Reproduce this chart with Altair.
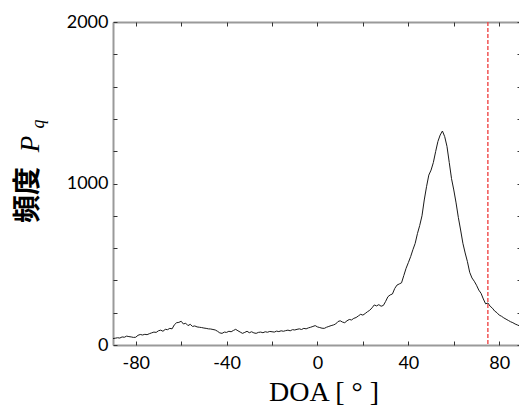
import altair as alt
import pandas as pd

# DOA angle in degrees (x axis)
doa = list(range(-90, 90))
# frequency P_q
freq = [
    40, 42, 45, 43, 50, 48, 55, 52, 50, 47,
    48, 60, 65, 62, 66, 64, 70, 75, 80, 78,
    88, 92, 85, 97, 95, 103, 100, 125, 138, 140,
    147, 130, 135, 120, 128, 115, 118, 112, 110, 108,
    105, 103, 100, 99, 96, 93, 85, 75, 72, 80,
    78, 85, 82, 90, 97, 88, 80, 72, 78, 85,
    76, 82, 75, 72, 78, 80, 76, 82, 79, 84,
    82, 80, 86, 83, 88, 85, 89, 92, 88, 95,
    93, 97, 100, 96, 103, 100, 106, 110, 115, 120,
    112, 108, 104, 103, 110, 115, 120, 124, 130, 145,
    150, 142, 138, 150, 158, 155, 165, 170, 180, 190,
    185, 195, 206, 215, 230, 248, 242, 250, 240, 245,
    270, 299, 310, 316, 350, 371, 378, 385, 430, 475,
    510, 547, 590, 629, 690, 740, 800, 898, 980, 1052,
    1083, 1130, 1197, 1260, 1300, 1325, 1290, 1230, 1130, 1030,
    960, 880, 790, 712, 630, 570, 516, 450, 415, 395,
    370, 340, 320, 285, 255, 260, 240, 228, 210, 200,
    185, 178, 168, 160, 152, 144, 138, 130, 124, 118,
]
# threshold angle (red dashed line)
threshold = [75]
x_label_values = [-80, -40, 0, 40, 80]
x_tick_values = list(range(-80, 81, 20))
y_label_values = [0, 1000, 2000]
y_tick_values = list(range(0, 2001, 200))
x_domain = [-90, 88.7]
y_domain = [0, 2000]
ytitle_main = ["頻度"]
ytitle_p = ["P"]
ytitle_q = ["q"]
xtitle = ["DOA [ ° ]"]

df = pd.DataFrame({"doa": doa, "freq": freq})
thr = pd.DataFrame({"doa": threshold})

W, H = 406, 323
xs = alt.Scale(domain=x_domain, nice=False, zero=False)
ys = alt.Scale(domain=y_domain, nice=False, zero=False)

DOM = "#9a9a9a"
TICK = "#333333"
PLAIN = "'' + datum.value"

main = alt.Chart(df).mark_line(color="#1a1a1a", strokeWidth=1, clip=True).encode(
    x=alt.X("doa:Q", scale=xs, axis=alt.Axis(
        orient="bottom", values=x_label_values, ticks=False, grid=False,
        domainColor=DOM, domainWidth=2, labelFont="Lato", labelFontSize=18,
        labelColor="black", labelPadding=9, labelFlush=False, labelExpr=PLAIN,
        title=None)),
    y=alt.Y("freq:Q", scale=ys, axis=alt.Axis(
        orient="left", values=y_label_values, ticks=False, grid=False,
        domainColor=DOM, domainWidth=2, labelFont="Lato", labelFontSize=18,
        labelColor="black", labelPadding=5, labelFlush=False, labelExpr=PLAIN,
        title=None)),
)

rule = alt.Chart(thr).mark_rule(color="#f04848", strokeWidth=1.4, strokeDash=[4, 2]).encode(
    x=alt.X("doa:Q", scale=xs, axis=alt.Axis(
        orient="top", ticks=False, labels=False, grid=False,
        domainColor=DOM, domainWidth=2, title=None)),
)

ticks_a = alt.Chart(df).mark_line(opacity=0).encode(
    x=alt.X("doa:Q", scale=xs, axis=alt.Axis(
        orient="top", offset=-H, values=x_tick_values, labels=False, domain=False,
        grid=False, ticks=True, tickSize=4, tickColor=TICK, tickWidth=1, title=None)),
    y=alt.Y("freq:Q", scale=ys, axis=alt.Axis(
        orient="right", offset=-W, values=y_tick_values, labels=False, domain=False,
        grid=False, ticks=True, tickSize=4, tickColor=TICK, tickWidth=1, title=None)),
)

ticks_b = alt.Chart(df).mark_line(opacity=0).encode(
    x=alt.X("doa:Q", scale=xs, axis=alt.Axis(
        orient="bottom", offset=-H, values=x_tick_values, labels=False, domain=False,
        grid=False, ticks=True, tickSize=4, tickColor=TICK, tickWidth=1, title=None)),
    y=alt.Y("freq:Q", scale=ys, axis=alt.Axis(
        orient="left", offset=-W, values=y_tick_values, labels=False, domain=False,
        grid=False, ticks=True, tickSize=2, tickColor=TICK, tickWidth=1, title=None)),
)

t_main = alt.Chart(pd.DataFrame({"t": ytitle_main})).mark_text(
    angle=270, align="center", baseline="middle", font="Noto Sans CJK JP",
    fontSize=28, fontWeight="bold", color="black").encode(
    text="t:N", x=alt.value(-84), y=alt.value(173))

t_p = alt.Chart(pd.DataFrame({"t": ytitle_p})).mark_text(
    angle=270, align="center", baseline="middle", font="Liberation Serif",
    fontSize=27, fontStyle="italic", color="black").encode(
    text="t:N", x=alt.value(-82), y=alt.value(122))

t_q = alt.Chart(pd.DataFrame({"t": ytitle_q})).mark_text(
    angle=270, align="center", baseline="middle", font="Liberation Serif",
    fontSize=18, fontStyle="italic", color="black").encode(
    text="t:N", x=alt.value(-74), y=alt.value(102))

t_x = alt.Chart(pd.DataFrame({"t": xtitle})).mark_text(
    align="center", baseline="middle", font="Liberation Serif",
    fontSize=28, color="black").encode(
    text="t:N", x=alt.value(211), y=alt.value(371))

chart = alt.layer(main, rule, ticks_a, ticks_b, t_main, t_p, t_q, t_x).resolve_axis(
    x="independent", y="independent"
).properties(
    width=W, height=H,
    padding={"left": 113, "top": 22, "right": 0, "bottom": 65},
    autosize="none",
    background="white",
).configure_view(stroke=None)

chart.save("out.html", embed_options={"renderer": "svg", "actions": False})
